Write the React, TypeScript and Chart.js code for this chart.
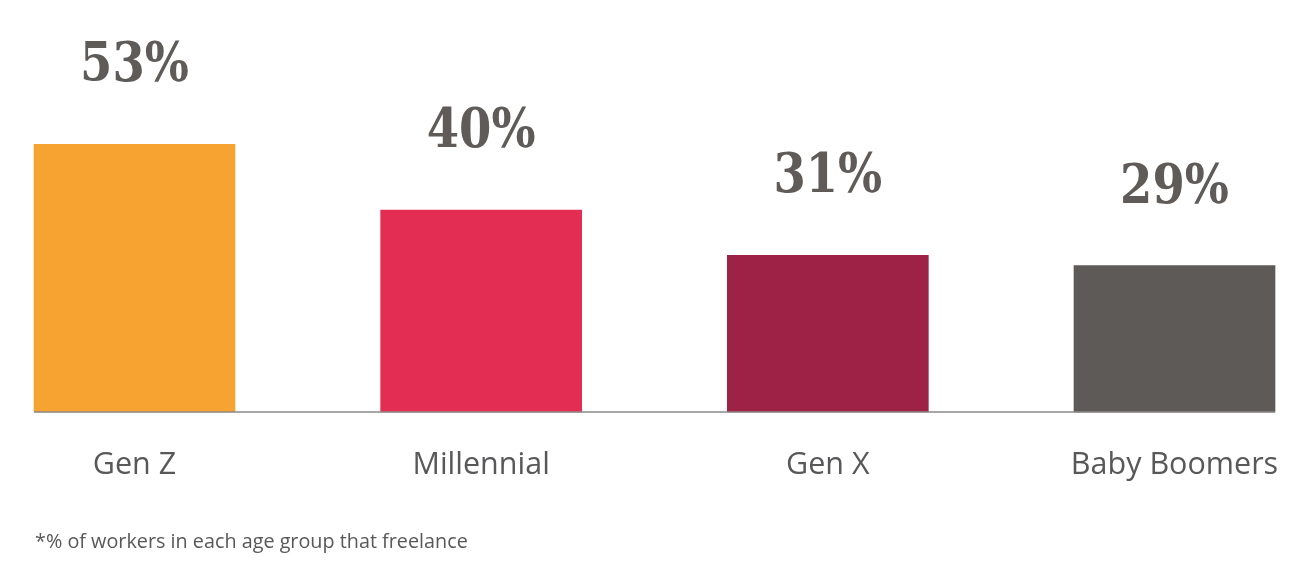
import React, { useEffect, useRef } from "react";
import { Chart, registerables } from "chart.js";

Chart.register(...registerables);

const categories = ["Gen Z", "Millennial", "Gen X", "Baby Boomers"];
const values = [53, 40, 31, 29];
const valueLabels = ["53%", "40%", "31%", "29%"];
const barColors = ["#f7a331", "#e42d53", "#9e2246", "#5e5a57"];
const footnote = "*% of workers in each age group that freelance";

const valueLabelPlugin = {
  id: "valueLabels",
  afterDatasetsDraw(chart: any) {
    const ctx = chart.ctx;
    const meta = chart.getDatasetMeta(0);
    ctx.save();
    const first = meta.data[0];
    const last = meta.data[meta.data.length - 1];
    const yb = chart.chartArea.bottom;
    ctx.strokeStyle = "#8c8a88";
    ctx.lineWidth = 1.5;
    ctx.beginPath();
    ctx.moveTo(first.x - first.width / 2, yb);
    ctx.lineTo(last.x + last.width / 2, yb);
    ctx.stroke();

    ctx.fillStyle = "#5f5b58";
    ctx.font = "bold 54px 'DejaVu Serif', serif";
    ctx.textAlign = "center";
    ctx.textBaseline = "middle";
    meta.data.forEach((bar: any, i: number) => {
      ctx.save();
      ctx.translate(bar.x, bar.y - 77);
      ctx.scale(0.86, 1);
      ctx.fillText(valueLabels[i], 0, 0);
      ctx.restore();
    });

    ctx.fillStyle = "#58585a";
    ctx.font = "19.8px 'Open Sans', sans-serif";
    ctx.textAlign = "left";
    ctx.textBaseline = "middle";
    ctx.fillText(footnote, 35, 542);
    ctx.restore();
  },
};

export default function App() {
  const ref = useRef<HTMLCanvasElement>(null);
  useEffect(() => {
    if (!ref.current) return;
    const chart = new Chart(ref.current, {
      type: "bar",
      data: {
        labels: categories,
        datasets: [
          {
            data: values,
            backgroundColor: barColors,
            borderWidth: 0,
            barThickness: 201,
            clip: false as any,
          },
        ],
      },
      options: {
        responsive: false,
        animation: false,
        layout: { padding: { left: 134.5, right: 138.5, top: 8, bottom: 65 } },
        plugins: { legend: { display: false }, tooltip: { enabled: false } },
        scales: {
          x: {
            offset: false,
            grid: { display: false, drawTicks: false },
            border: { display: false },
            ticks: {
              color: "#58585a",
              padding: 34.7,
              font: { family: "'Open Sans', sans-serif", size: 30.5 },
              maxRotation: 0,
              autoSkip: false,
            },
          },
          y: { display: false, min: 0, max: 80 },
        },
      },
      plugins: [valueLabelPlugin],
    });
    return () => chart.destroy();
  }, []);
  return (
    <div style={{ position: "absolute", left: 0, top: 0, width: 1313, height: 583, background: "#fff" }}>
      <canvas ref={ref} width={1313} height={583} style={{ display: "block" }} />
    </div>
  );
}
